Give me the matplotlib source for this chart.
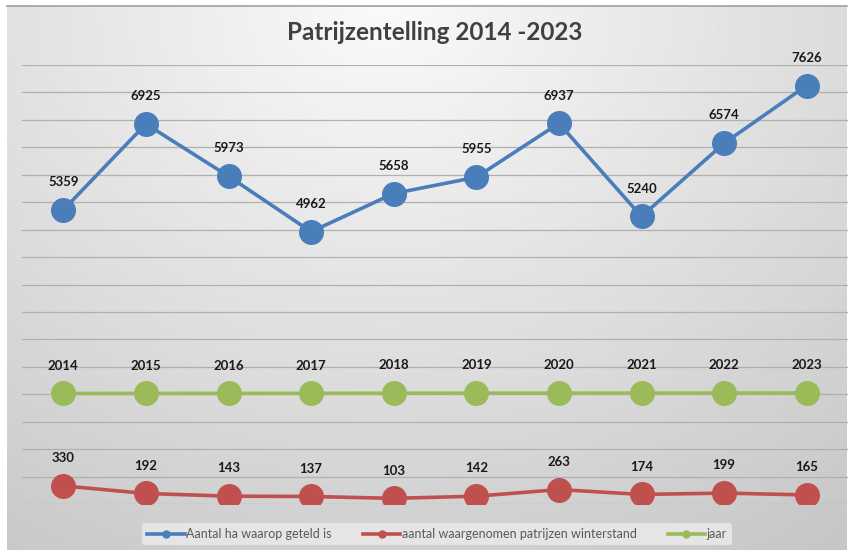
import numpy as np
import matplotlib.pyplot as plt

years = ['2014', '2015', '2016', '2017', '2018', '2019', '2020', '2021', '2022', '2023']
hectares = [5359, 6925, 5973, 4962, 5658, 5955, 6937, 5240, 6574, 7626]
partridges = [330, 192, 143, 137, 103, 142, 263, 174, 199, 165]
jaar = [2014, 2015, 2016, 2017, 2018, 2019, 2020, 2021, 2022, 2023]

labels = ['Aantal ha waarop geteld is',
          'aantal waargenomen patrijzen winterstand',
          'jaar']
colors = ['#4a7ebb', '#c0504d', '#9bbb59']

plt.rcParams['font.family'] = ['Lato', 'DejaVu Sans']

fig = plt.figure(figsize=(8.52, 5.5), dpi=100)

# gradient background of the chart area
bg = fig.add_axes([7 / 852, 0, 840 / 852, 544 / 550])
yy, xx = np.mgrid[0:1:200j, 0:1:300j]
dist = np.sqrt(((xx - 0.45) * 1.3) ** 2 + (yy * 1.0) ** 2)
shade = 0.98 - 0.2 * np.clip(dist, 0, 1.2) / 1.2
bg.imshow(shade, cmap='gray', vmin=0, vmax=1, aspect='auto', extent=[0, 1, 1, 0])
bg.set_axis_off()
fig.add_artist(plt.Line2D([7 / 852, 847 / 852], [544 / 550, 544 / 550],
                          color='#a0a0a0', lw=1.2, transform=fig.transFigure))

ax = fig.add_axes([22 / 852, 1 - 504 / 550, 826 / 852, 439 / 550])
ax.patch.set_alpha(0)
x = np.arange(len(years))

for series, c, lab in zip([hectares, partridges, jaar], colors, labels):
    ax.plot(x, series, color=c, lw=2.6, marker='o', markersize=17,
            markeredgecolor=c, label=lab, zorder=3)
    for xi, v in zip(x, series):
        ax.annotate(str(v), (xi, v), xytext=(0, 20), textcoords='offset points',
                    ha='center', va='center', fontsize=9.5, fontweight='bold',
                    color='#1a1a1a', annotation_clip=False)

ax.set_xlim(-0.5, len(years) - 0.5)
ax.set_ylim(0, 8000)
ax.set_yticks(np.arange(0, 8001, 500))
ax.yaxis.grid(True, color='#b0b0b0', lw=0.9)
ax.set_axisbelow(True)
ax.tick_params(left=False, bottom=False, labelleft=False, labelbottom=False)
for s in ax.spines.values():
    s.set_visible(False)

fig.text(435 / 852, 1 - 32 / 550, 'Patrijzentelling 2014 -2023', ha='center', va='center',
         fontsize=17.5, fontweight='bold', color='#404040')

handles, labs = ax.get_legend_handles_labels()
handles = [plt.Line2D([], [], color=h.get_color(), lw=2.6, marker='o', markersize=5)
           for h in handles]
leg = fig.legend(handles, labs, loc='center', bbox_to_anchor=(437 / 852, 1 - 534 / 550),
                 ncol=3, frameon=True, fontsize=9, handlelength=3, columnspacing=2.5,
                 handletextpad=0.1, borderpad=0.4)
leg.get_frame().set_facecolor('#e8e8e8')
leg.get_frame().set_edgecolor('none')
leg.get_frame().set_alpha(0.9)
for t in leg.get_texts():
    t.set_color('#595959')

fig.savefig('out.png', dpi=100)
